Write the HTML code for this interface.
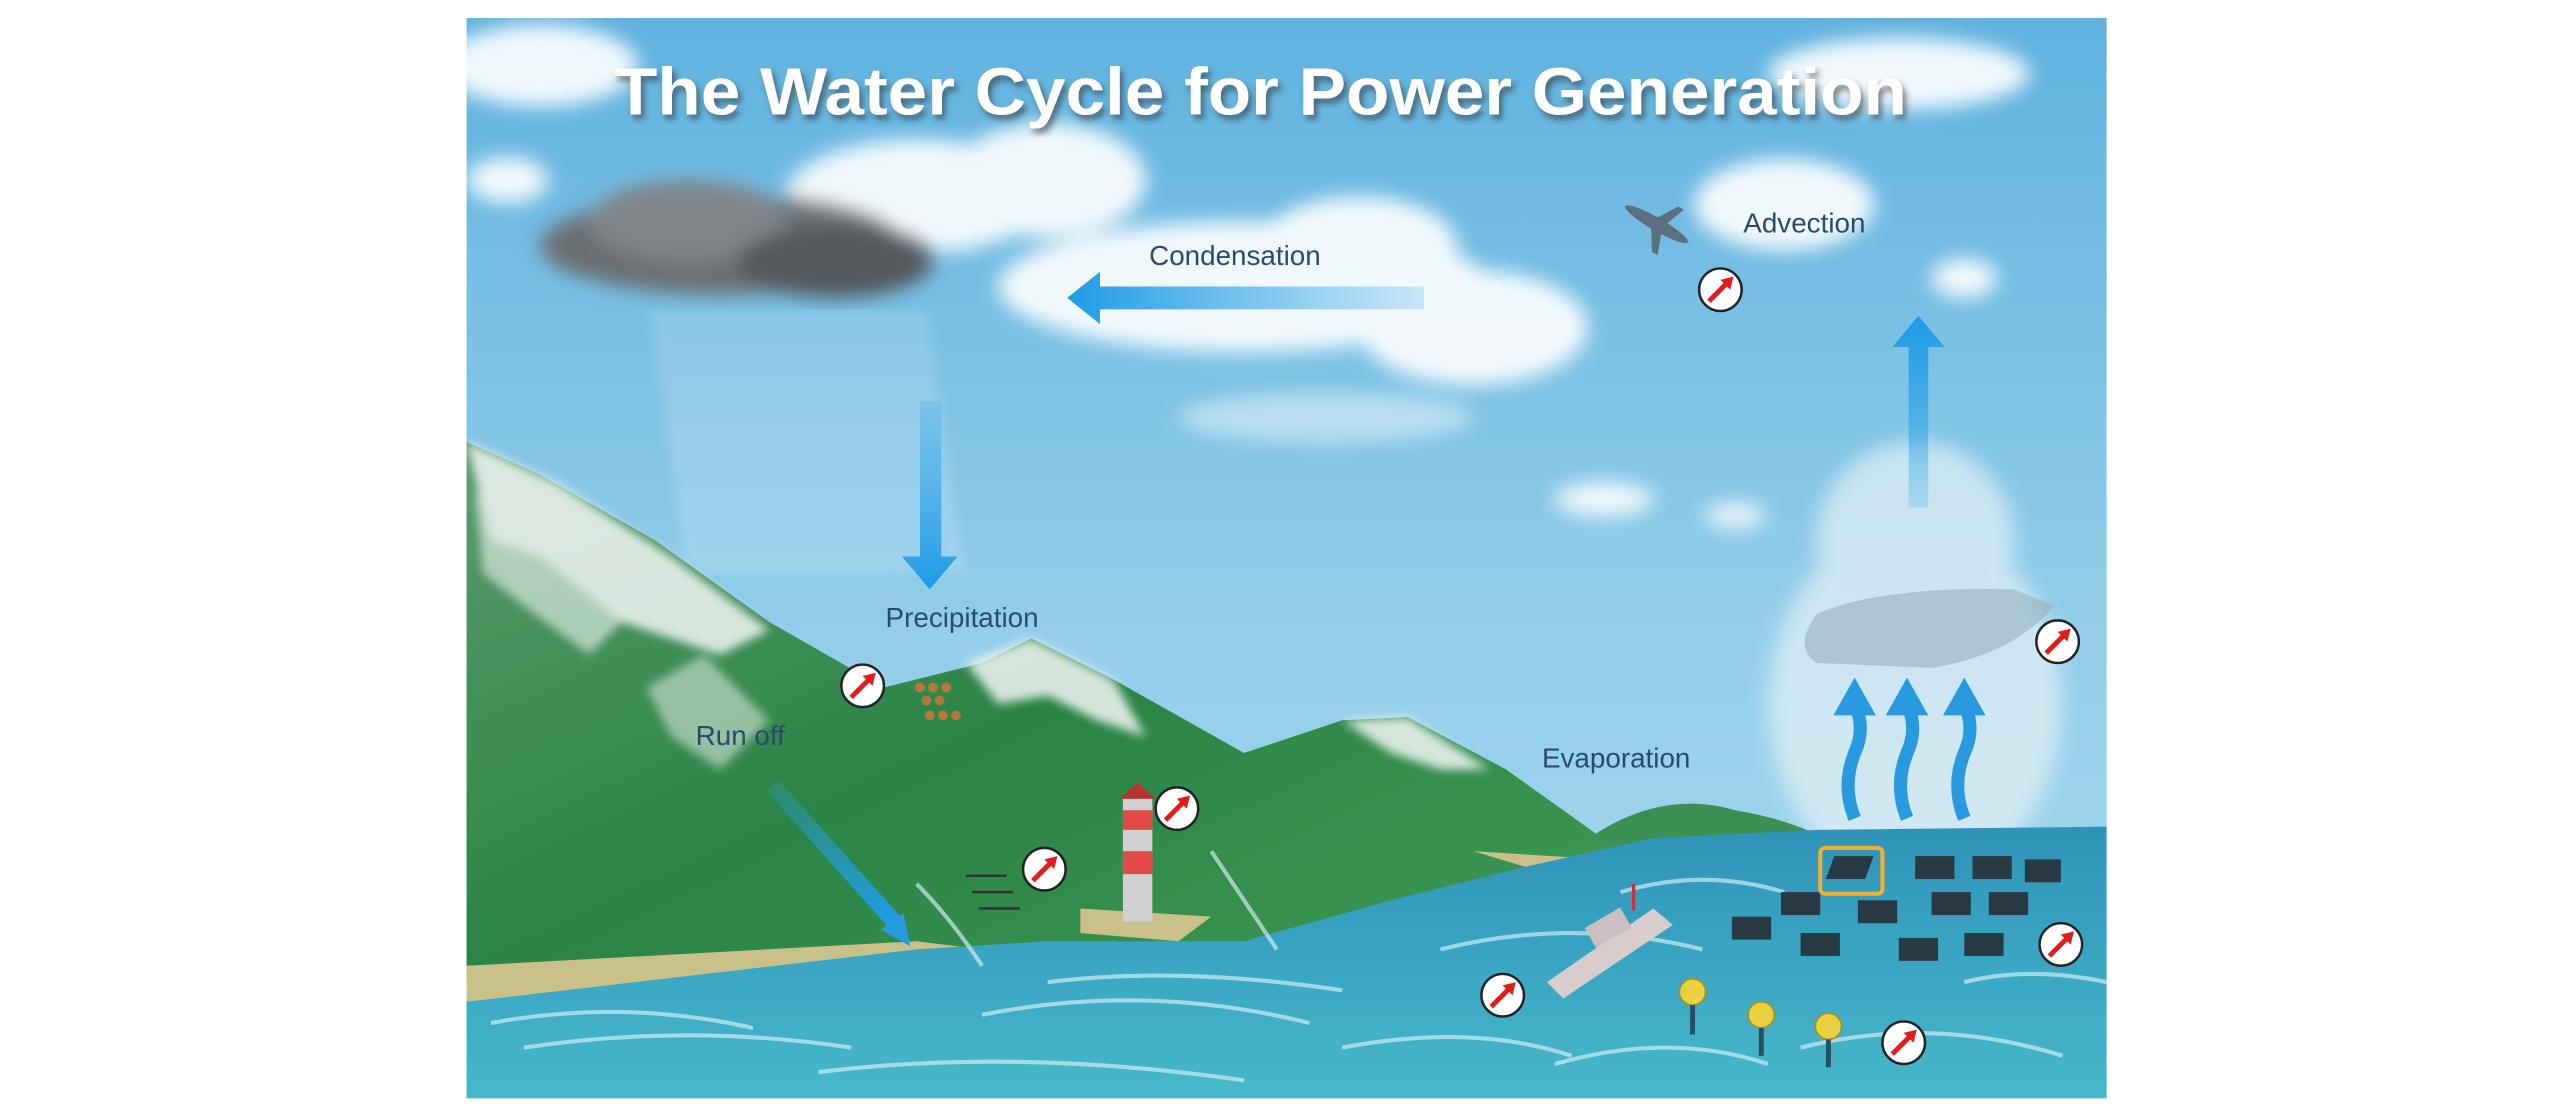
<!DOCTYPE html>
<html><head><meta charset="utf-8"><style>
html,body{margin:0;padding:0;background:#fff;}
svg{display:block}
</style></head><body>
<svg width="2567" height="1118" viewBox="0 0 1568.2 683" xmlns="http://www.w3.org/2000/svg">
<defs>
<linearGradient id="sky" x1="0" y1="0" x2="0" y2="1">
<stop offset="0" stop-color="#5fb2df"/><stop offset="0.5" stop-color="#8ecbe8"/><stop offset="1" stop-color="#a9dbee"/>
</linearGradient>
<linearGradient id="sea" x1="0" y1="0" x2="0" y2="1">
<stop offset="0" stop-color="#2f93b8"/><stop offset="0.5" stop-color="#3aa6c3"/><stop offset="1" stop-color="#48b8c8"/>
</linearGradient>
<linearGradient id="mtn" x1="0" y1="0" x2="1" y2="1">
<stop offset="0" stop-color="#5a9a6a"/><stop offset="0.5" stop-color="#2a8446"/><stop offset="1" stop-color="#3f9a55"/>
</linearGradient>
<linearGradient id="arrV" x1="0" y1="0" x2="0" y2="1">
<stop offset="0" stop-color="#2ea4e8" stop-opacity="0.2"/><stop offset="1" stop-color="#1e9be6"/>
</linearGradient>
<linearGradient id="arrU" x1="0" y1="1" x2="0" y2="0">
<stop offset="0" stop-color="#2ea4e8" stop-opacity="0.2"/><stop offset="1" stop-color="#1e9be6"/>
</linearGradient>
<linearGradient id="arrH" x1="1" y1="0" x2="0" y2="0">
<stop offset="0" stop-color="#2ea4e8" stop-opacity="0.2"/><stop offset="1" stop-color="#1e9be6"/>
</linearGradient>
<filter id="blur"><feGaussianBlur stdDeviation="6"/></filter>
<filter id="blur2"><feGaussianBlur stdDeviation="3"/></filter>
<filter id="sh"><feDropShadow dx="2" dy="3" stdDeviation="2" flood-color="#333" flood-opacity="0.6"/></filter>
<clipPath id="clip"><rect x="285" y="11" width="1002" height="660"/></clipPath>
<g id="ic"><circle r="13" fill="#fff" stroke="#222" stroke-width="1.5"/><line x1="-7" y1="7" x2="5" y2="-5" stroke="#e21b1b" stroke-width="3"/><polygon points="8,-8 0,-6 6,0" fill="#e21b1b"/></g>
</defs>
<g clip-path="url(#clip)">
<rect x="285" y="11" width="1002" height="660" fill="url(#sky)"/>
<g fill="#ffffff" opacity="0.9" filter="url(#blur)">
<ellipse cx="560" cy="120" rx="80" ry="35"/><ellipse cx="640" cy="110" rx="60" ry="35"/>
<ellipse cx="760" cy="175" rx="150" ry="40"/><ellipse cx="900" cy="200" rx="70" ry="35"/>
<ellipse cx="830" cy="150" rx="60" ry="30"/>
<ellipse cx="1160" cy="45" rx="80" ry="22"/><ellipse cx="330" cy="40" rx="60" ry="25"/>
<ellipse cx="1090" cy="125" rx="55" ry="28"/><ellipse cx="1200" cy="170" rx="20" ry="12"/>
<ellipse cx="980" cy="305" rx="30" ry="10"/><ellipse cx="1060" cy="315" rx="18" ry="7"/>
<ellipse cx="310" cy="110" rx="25" ry="14"/><ellipse cx="810" cy="255" rx="90" ry="15" opacity="0.5"/>
</g>
<g fill="#e6f2f6" opacity="0.7" filter="url(#blur)">
<ellipse cx="1170" cy="430" rx="90" ry="110"/><ellipse cx="1170" cy="330" rx="60" ry="60"/>
</g>
<g filter="url(#blur)">
<ellipse cx="440" cy="150" rx="110" ry="30" fill="#6a6e72"/>
<ellipse cx="420" cy="135" rx="60" ry="25" fill="#80858a"/>
<ellipse cx="510" cy="160" rx="60" ry="22" fill="#55595d"/>
</g>
<rect x="370" y="190" width="170" height="160" fill="#e0f0f8" opacity="0.18" filter="url(#blur2)" transform="skewX(8)"/>
<path d="M960,520 Q1010,480 1060,495 Q1090,500 1110,510 L960,525Z" fill="#3c8f52"/>
<path d="M285,270 L330,290 L400,330 L470,380 L540,420 L600,405 L630,390 L680,415 L760,460 L820,440 L860,438 L920,470 L990,520 L900,540 L750,580 L560,585 L285,600Z" fill="url(#mtn)"/>
<g fill="#f4f7f7" opacity="0.85" filter="url(#blur2)">
<path d="M285,270 L340,295 L410,340 L470,385 L440,400 L380,380 L330,340 L300,330Z"/>
<path d="M290,300 L340,330 L380,380 L360,400 L320,370 L295,350Z" opacity="0.7"/>
<path d="M590,405 L630,390 L680,415 L700,450 L670,440 L640,425 L610,430Z"/>
<path d="M820,440 L860,438 L910,470 L880,470 L850,460Z"/>
<path d="M395,420 L430,400 L470,440 L440,470 L410,450Z" opacity="0.6"/>
</g>
<path d="M285,590 L560,575 L600,580 L285,618Z" fill="#c9c08a"/>
<path d="M660,555 L740,560 L720,575 L660,570Z" fill="#c9c08a"/>
<path d="M900,520 L980,525 L950,535Z" fill="#c9c08a"/>
<path d="M285,612 L560,580 L640,575 L760,575 L850,550 L930,530 L1010,512 L1110,507 L1287,505 L1287,671 L285,671Z" fill="url(#sea)"/>
<g stroke="#d6f2f7" stroke-width="2.5" fill="none" opacity="0.65">
<path d="M320,640 Q420,625 520,640"/><path d="M600,620 Q700,600 800,625"/>
<path d="M880,580 Q960,560 1040,580"/><path d="M1100,640 Q1180,620 1260,645"/>
<path d="M500,655 Q620,640 760,660"/><path d="M950,650 Q1020,630 1080,650"/>
<path d="M560,540 Q580,560 600,590"/><path d="M740,520 Q760,550 780,580"/>
<path d="M300,625 Q380,610 460,628"/><path d="M640,600 Q720,590 820,605"/>
<path d="M820,640 Q900,625 960,645"/><path d="M1200,600 Q1240,590 1287,600"/>
<path d="M990,545 Q1040,530 1090,545"/>
</g>
<text x="770" y="70" text-anchor="middle" textLength="790" lengthAdjust="spacingAndGlyphs" font-family="Liberation Sans, sans-serif" font-weight="bold" font-size="41" fill="#fff" filter="url(#sh)">The Water Cycle for Power Generation</text>
<g font-family="Liberation Sans, sans-serif" font-size="17" fill="#2a4a6e">
<text x="702" y="162">Condensation</text>
<text x="1065" y="142">Advection</text>
<text x="541" y="383">Precipitation</text>
<text x="425" y="455">Run off</text>
<text x="942" y="469">Evaporation</text>
</g>
<path d="M870,175 L672,175 L672,166 L652,182 L672,198 L672,189 L870,189Z" fill="url(#arrH)"/>
<path d="M562,245 L575,245 L575,340 L585,340 L568,360 L551,340 L562,340Z" fill="url(#arrV)"/>
<path d="M1166,310 L1178,310 L1178,212 L1188,212 L1172,193 L1156,212 L1166,212Z" fill="url(#arrU)"/>
<path d="M472,480 L548,565" stroke="url(#arrV)" stroke-width="10"/>
<polygon points="538,568 556,578 552,558" fill="#2a9ae0"/>
<g fill="none" stroke="#2a9ae0" stroke-width="8">
<path d="M1133,500 Q1125,480 1133,460 Q1140,445 1133,430"/>
<path d="M1165,500 Q1157,480 1165,460 Q1172,445 1165,430"/>
<path d="M1200,500 Q1192,480 1200,460 Q1207,445 1200,430"/>
</g>
<g fill="#2a9ae0">
<polygon points="1120,437 1133,414 1146,437"/><polygon points="1152,437 1165,414 1178,437"/><polygon points="1187,437 1200,414 1213,437"/>
</g>
<path d="M1110,375 Q1150,358 1230,360 L1255,370 Q1230,400 1180,408 L1110,405 Q1095,395 1110,375Z" fill="#9db8c2" opacity="0.7"/>
<g transform="translate(1012,137) rotate(30)" fill="#5a7080"><ellipse rx="22" ry="4"/><polygon points="-4,0 6,-16 10,-16 4,0 10,16 6,16"/></g>
<rect x="686" y="488" width="18" height="75" fill="#d0d0d0"/>
<rect x="686" y="495" width="18" height="12" fill="#e24a4a"/>
<rect x="686" y="520" width="18" height="14" fill="#e24a4a"/>
<polygon points="684,488 695,478 706,488" fill="#b33"/>
<g stroke="#333" stroke-width="1.5" fill="none"><path d="M590,535 l25,0 M594,545 l25,0 M598,555 l25,0"/></g>
<g fill="#b5773a"><circle cx="562" cy="420" r="3"/><circle cx="570" cy="420" r="3"/><circle cx="578" cy="420" r="3"/><circle cx="566" cy="428" r="3"/><circle cx="574" cy="428" r="3"/><circle cx="568" cy="437" r="3"/><circle cx="576" cy="437" r="3"/><circle cx="584" cy="437" r="3"/></g>
<path d="M945,600 L1010,555 L1022,565 L955,610Z" fill="#d8cccc"/>
<rect x="970" y="560" width="25" height="14" fill="#c8c0c0" transform="rotate(-30 982 567)"/>
<rect x="997" y="540" width="2" height="16" fill="#c33"/>
<g fill="#2a3a42">
<rect x="1118" y="523" width="24" height="14" transform="skewX(-20)" transform-origin="1130 530"/>
<rect x="1170" y="523" width="24" height="14"/><rect x="1205" y="523" width="24" height="14"/><rect x="1237" y="525" width="22" height="14"/>
<rect x="1088" y="545" width="24" height="14"/><rect x="1135" y="550" width="24" height="14"/><rect x="1180" y="545" width="24" height="14"/><rect x="1215" y="545" width="24" height="14"/>
<rect x="1058" y="560" width="24" height="14"/><rect x="1100" y="570" width="24" height="14"/><rect x="1160" y="573" width="24" height="14"/><rect x="1200" y="570" width="24" height="14"/>
</g>
<rect x="1112" y="518" width="38" height="28" rx="3" fill="none" stroke="#f0b030" stroke-width="2.5"/>
<g fill="#e8d040" stroke="#a89020" stroke-width="1"><circle cx="1034" cy="606" r="8"/><circle cx="1076" cy="620" r="8"/><circle cx="1117" cy="627" r="8"/></g>
<g stroke="#2a5060" stroke-width="3"><line x1="1034" y1="614" x2="1034" y2="632"/><line x1="1076" y1="628" x2="1076" y2="645"/><line x1="1117" y1="635" x2="1117" y2="652"/></g>
<use href="#ic" x="527" y="419"/><use href="#ic" x="719" y="494"/><use href="#ic" x="638" y="531"/>
<use href="#ic" x="1051" y="177"/><use href="#ic" x="1257" y="392"/><use href="#ic" x="1259" y="577"/>
<use href="#ic" x="918" y="608"/><use href="#ic" x="1163" y="637"/>
</g>
</svg>
</body></html>
